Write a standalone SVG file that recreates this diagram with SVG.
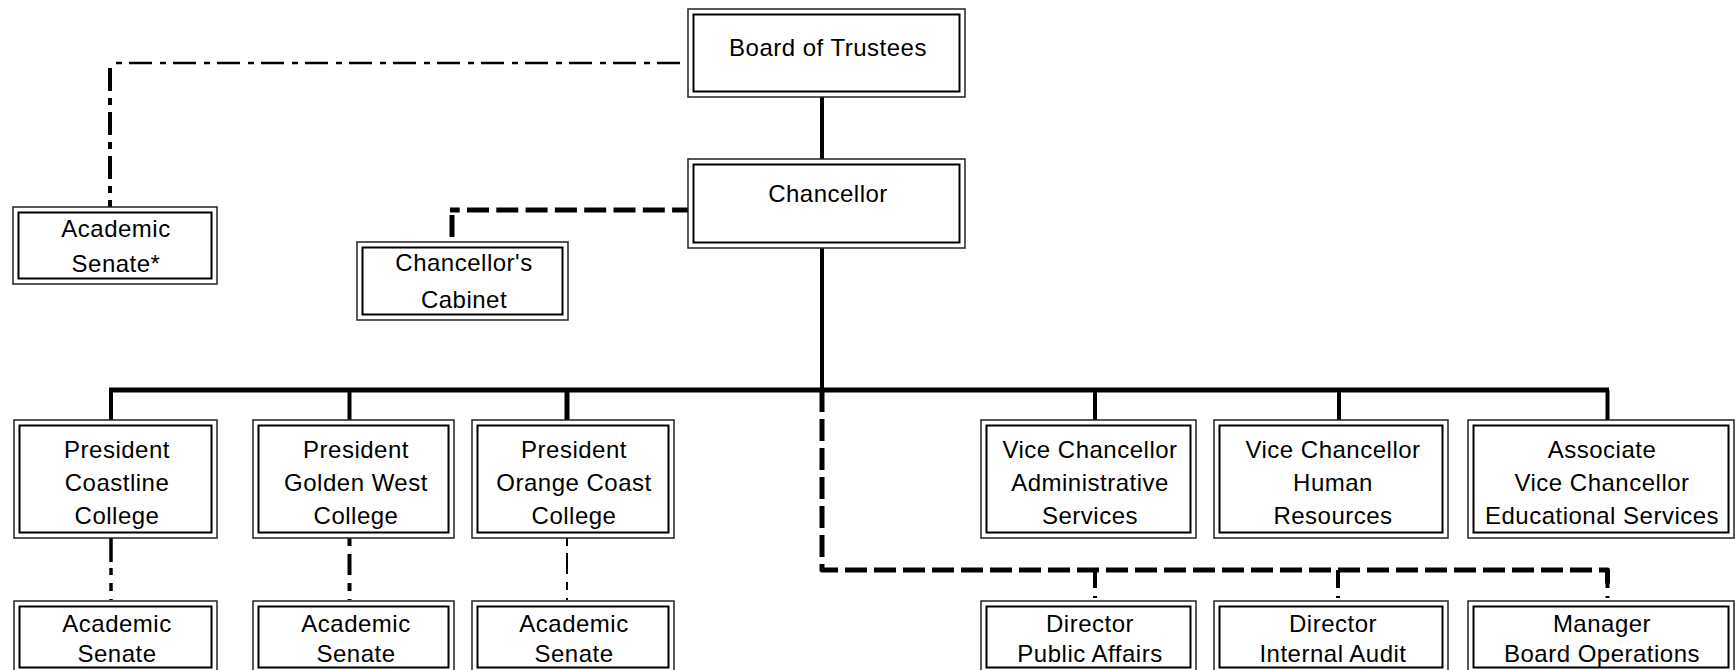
<svg xmlns="http://www.w3.org/2000/svg" width="1735" height="670" viewBox="0 0 1735 670">
<style>
.o{fill:#fff;stroke:#222;stroke-width:1.5}
.i{fill:none;stroke:#000;stroke-width:2}
text{font-family:"Liberation Sans",Arial,sans-serif;font-size:24px;letter-spacing:0.5px;fill:#000;text-anchor:middle}
.c{fill:none;stroke:#000}
.solid{stroke-width:4}
.bus{stroke-width:5}
.dash{stroke-width:5;stroke-dasharray:22 7}
</style>
<rect width="1735" height="670" fill="#fff"/>
<g id="connectors">
  <path class="c solid" d="M822 97V159"/>
  <path class="c solid" d="M822 248V390"/>
  <path class="c bus" d="M109 390H1609"/>
  <path class="c solid" d="M111 390V420"/>
  <path class="c solid" d="M349.5 390V420"/>
  <path class="c bus" d="M567 390V420"/>
  <path class="c solid" d="M1095 390V420"/>
  <path class="c solid" d="M1339 390V420"/>
  <path class="c solid" d="M1607.5 390V420"/>
  <path class="c" stroke-width="2.5" stroke-dasharray="6 7 23 8" d="M116 63H688"/>
  <path class="c" stroke-width="4" stroke-dasharray="23 7 7 7" d="M110 68V207"/>
  <path class="c" stroke-width="5" stroke-dasharray="22 7.3" stroke-dashoffset="12.3" d="M450 210H689"/>
  <path class="c" stroke-width="5" d="M452 215V237"/>
  <path class="c dash" stroke-linejoin="round" d="M822 390V570H1607.5V588"/>
  <path class="c" stroke-width="4" stroke-dasharray="18 8 2 30" d="M1095 570V600"/>
  <path class="c" stroke-width="4" stroke-dasharray="18 8 2 30" d="M1338 570V600"/>
  <path class="c" stroke-width="4" stroke-dasharray="18 8 2 30" d="M1607.5 570V600"/>
  <path class="c" stroke-width="3.5" stroke-dasharray="24 6 7 8 8 8 2 20" d="M111 538V600"/>
  <path class="c" stroke-width="4" stroke-dasharray="8 8 21 8 8 8 2 20" d="M349.5 538V600"/>
  <path class="c" stroke-width="2" stroke-dasharray="8 7 21 8 8 8 2 20" d="M567 538V600"/>
</g>
<g id="board">
  <rect class="o" x="688" y="9" width="277" height="88"/><rect class="i" x="693.5" y="14.5" width="266" height="77"/>
  <text x="828" y="56">Board of Trustees</text>
</g>
<g id="chancellor">
  <rect class="o" x="688" y="159" width="277" height="89"/><rect class="i" x="693.5" y="164.5" width="266" height="78"/>
  <text x="828" y="202">Chancellor</text>
</g>
<g id="academic-senate-district">
  <rect class="o" x="13" y="207" width="204" height="77"/><rect class="i" x="18.5" y="212.5" width="193" height="66"/>
  <text x="116" y="237">Academic</text><text x="116" y="272">Senate*</text>
</g>
<g id="cabinet">
  <rect class="o" x="357" y="242" width="211" height="78"/><rect class="i" x="362.5" y="247.5" width="200" height="67"/>
  <text x="464" y="271">Chancellor's</text><text x="464" y="308">Cabinet</text>
</g>
<g id="pres-coastline">
  <rect class="o" x="14" y="420" width="203" height="118"/><rect class="i" x="19.5" y="425.5" width="192" height="107"/>
  <text x="117" y="458">President</text><text x="117" y="491">Coastline</text><text x="117" y="524">College</text>
</g>
<g id="pres-goldenwest">
  <rect class="o" x="253" y="420" width="201" height="118"/><rect class="i" x="258.5" y="425.5" width="190" height="107"/>
  <text x="356" y="458">President</text><text x="356" y="491">Golden West</text><text x="356" y="524">College</text>
</g>
<g id="pres-orangecoast">
  <rect class="o" x="472" y="420" width="202" height="118"/><rect class="i" x="477.5" y="425.5" width="191" height="107"/>
  <text x="574" y="458">President</text><text x="574" y="491">Orange Coast</text><text x="574" y="524">College</text>
</g>
<g id="vc-admin">
  <rect class="o" x="981" y="420" width="215" height="118"/><rect class="i" x="986.5" y="425.5" width="204" height="107"/>
  <text x="1090" y="458">Vice Chancellor</text><text x="1090" y="491">Administrative</text><text x="1090" y="524">Services</text>
</g>
<g id="vc-hr">
  <rect class="o" x="1214" y="420" width="234" height="118"/><rect class="i" x="1219.5" y="425.5" width="223" height="107"/>
  <text x="1333" y="458">Vice Chancellor</text><text x="1333" y="491">Human</text><text x="1333" y="524">Resources</text>
</g>
<g id="avc-ed">
  <rect class="o" x="1468" y="420" width="266" height="118"/><rect class="i" x="1473.5" y="425.5" width="255" height="107"/>
  <text x="1602" y="458">Associate</text><text x="1602" y="491">Vice Chancellor</text><text x="1602" y="524">Educational Services</text>
</g>
<g id="senate-coastline">
  <rect class="o" x="14" y="601" width="203" height="72"/><rect class="i" x="19.5" y="606.5" width="192" height="61"/>
  <text x="117" y="632">Academic</text><text x="117" y="662">Senate</text>
</g>
<g id="senate-goldenwest">
  <rect class="o" x="253" y="601" width="201" height="72"/><rect class="i" x="258.5" y="606.5" width="190" height="61"/>
  <text x="356" y="632">Academic</text><text x="356" y="662">Senate</text>
</g>
<g id="senate-orangecoast">
  <rect class="o" x="472" y="601" width="202" height="72"/><rect class="i" x="477.5" y="606.5" width="191" height="61"/>
  <text x="574" y="632">Academic</text><text x="574" y="662">Senate</text>
</g>
<g id="dir-public-affairs">
  <rect class="o" x="981" y="601" width="215" height="72"/><rect class="i" x="986.5" y="606.5" width="204" height="61"/>
  <text x="1090" y="632">Director</text><text x="1090" y="662">Public Affairs</text>
</g>
<g id="dir-internal-audit">
  <rect class="o" x="1214" y="601" width="234" height="72"/><rect class="i" x="1219.5" y="606.5" width="223" height="61"/>
  <text x="1333" y="632">Director</text><text x="1333" y="662">Internal Audit</text>
</g>
<g id="mgr-board-ops">
  <rect class="o" x="1468" y="601" width="266" height="72"/><rect class="i" x="1473.5" y="606.5" width="255" height="61"/>
  <text x="1602" y="632">Manager</text><text x="1602" y="662">Board Operations</text>
</g>
</svg>
